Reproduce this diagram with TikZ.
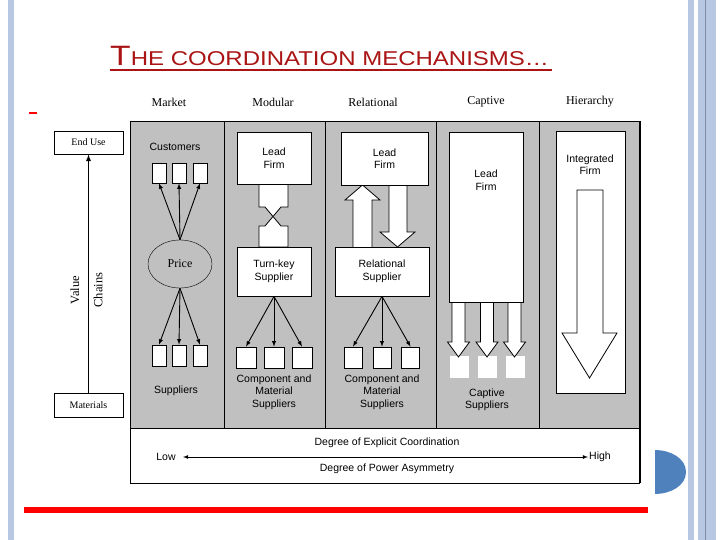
\documentclass[tikz,border=0pt]{standalone}
\usetikzlibrary{shapes.geometric}
\usepackage{fontspec}
\setmainfont{Liberation Sans}
\newfontfamily\serf{Liberation Serif}
\definecolor{band}{RGB}{184,200,226}
\definecolor{panel}{RGB}{192,192,192}
\definecolor{ttl}{RGB}{170,20,20}
\definecolor{dot}{RGB}{79,129,189}
\begin{document}
\begin{tikzpicture}[x=1pt,y=-1pt,
  wb/.style={draw=black,fill=white,line width=0.8pt},
  sm/.style={draw=black,fill=white,line width=0.7pt},
  lbl/.style={font=\fontsize{10.5}{12.5}\selectfont,align=center,inner sep=0pt},
  hd/.style={font=\serf\fontsize{12}{13}\selectfont,inner sep=0pt},
  arr/.style={-latex,line width=0.9pt},
  blk/.style={draw=black,fill=white,line width=0.8pt}]
\useasboundingbox (0,0) rectangle (720,540);
\fill[white] (0,0) rectangle (720,540);
% side bands
\fill[band] (8,0) rectangle (14,540);
\fill[band] (688,0) rectangle (694,540);
\fill[band] (698,0) rectangle (716,540);
\draw[band!70!black,line width=0.5pt] (705,0) -- (705,540);
% title
\node[anchor=base west,text=ttl,inner sep=0pt,xscale=1.2] (title) at (110,66)
  {\fontsize{28}{28}\selectfont T\fontsize{20}{20}\selectfont HE COORDINATION MECHANISMS\ldots};
\draw[ttl,line width=1.5pt] (110,70) -- (552,70);
\draw[red,line width=1.5pt] (29,113) -- (37,113);
% headers
\node[hd] (h1) at (169,102) {Market};
\node[hd] (h2) at (273,102) {Modular};
\node[hd] (h3) at (373,102) {Relational};
\node[hd] (h4) at (486,102) {Captive};
\node[hd] (h5) at (590,102) {Hierarchy};
% panel
\fill[panel] (130,121) rectangle (640,428);
\fill[white] (130,428) rectangle (640,483);
\draw[line width=0.7pt] (130,121) -- (640,121);
\draw[line width=0.7pt] (130,121) -- (130,483) -- (640,483);
\draw[line width=1.3pt] (640,121) -- (640,483);
\draw[line width=0.7pt] (130,428) -- (640,428);
\foreach \x in {224,325,436,539} \draw[line width=0.7pt] (\x,121) -- (\x,428);
% left
\node[wb,minimum width=69pt,minimum height=23pt,font=\serf\fontsize{10}{11}\selectfont] (end) at (88.5,142.5) {End Use};
\node[wb,minimum width=69pt,minimum height=24pt,font=\serf\fontsize{10}{11}\selectfont] (mat) at (88.5,405) {Materials};
\draw[-latex,line width=1.3pt] (mat.north) -- (end.south);
\node[hd,rotate=90,font=\serf\fontsize{12.5}{13}\selectfont] (val) at (75,290) {Value};
\node[hd,rotate=90,font=\serf\fontsize{12.5}{13}\selectfont] (chn) at (98,290) {Chains};
% market
\node[lbl] (cust) at (175,147) {Customers};
\foreach \i/\x in {1/159,2/179,3/200}{
  \node[sm,minimum width=14pt,minimum height=20pt,inner sep=0pt] (c\i) at (\x,173) {};
  \node[sm,minimum width=14pt,minimum height=21pt,inner sep=0pt] (s\i) at (\x,355.5) {};}
\node[draw,fill=panel,ellipse,minimum width=64pt,minimum height=48pt,inner sep=0pt,font=\serf\fontsize{12}{13}\selectfont] (price) at (180,264) {Price};
\foreach \i in {1,2,3}{\draw[arr] (price.north) -- (c\i.south); \draw[arr] (price.south) -- (s\i.north);}
\node[lbl] (sup) at (176,391) {Suppliers};
% block connectors (drawn before the boxes)
\draw[blk] (259,184) -- (259,207) -- (265,207) -- (281,226) -- (288,226) -- (288,247) -- (259,247) -- (259,226) -- (265,226) -- (281,207) -- (288,207) -- (288,184);
\draw[blk] (353,247) -- (353,200) -- (345,200) -- (362.5,185) -- (380,200) -- (372,200) -- (372,247);
\draw[blk] (389,185) -- (389,232) -- (380,232) -- (397.5,247) -- (415,232) -- (407,232) -- (407,185);
\foreach \i/\x in {1/459.5,2/487.5,3/515.5}{
  \node[fill=white,minimum width=19pt,minimum height=22pt,inner sep=0pt] (k\i) at (\x,367) {};}
\foreach \x in {458.5,487,514.5}{
  \draw[blk] (\x-6.5,302) -- (\x-6.5,342) -- (\x-11,342) -- (\x,357) -- (\x+11,342) -- (\x+6.5,342) -- (\x+6.5,302);}
% modular
\node[wb,minimum width=74pt,minimum height=52pt,lbl] (lf2) at (274,158) {Lead\\Firm};
\node[wb,minimum width=74pt,minimum height=49pt,lbl] (tk) at (274,271.5) {Turn-key\\Supplier};
\foreach \i/\x in {1/246,2/274,3/302}{
  \node[sm,minimum width=20pt,minimum height=21pt,inner sep=0pt] (m\i) at (\x,357.5) {};
  \draw[arr] (tk.south) -- (m\i.north);}
\node[lbl] (cm1) at (274,392) {Component and\\Material\\Suppliers};
% relational
\node[wb,minimum width=87pt,minimum height=53pt,lbl] (lf3) at (384.5,158.5) {Lead\\Firm};
\node[wb,minimum width=94pt,minimum height=49pt,lbl] (rs) at (382,271.5) {Relational\\Supplier};
\foreach \i/\x in {1/353,2/382,3/410.5}{
  \node[sm,minimum width=18pt,minimum height=21pt,inner sep=0pt] (r\i) at (\x,357.5) {};
  \draw[arr] (rs.south) -- (r\i.north);}
\node[lbl] (cm2) at (382,392) {Component and\\Material\\Suppliers};
% captive
\node[wb,minimum width=74pt,minimum height=170pt,lbl] (lf4) at (486,217) {};
\node[lbl] (lf4t) at (486,180) {Lead\\Firm};
\node[lbl] (cs) at (487,400) {Captive\\Suppliers};
% hierarchy
\node[wb,minimum width=69pt,minimum height=262pt] (ifm) at (590.5,262) {};
\node[lbl] (ift) at (590,164.5) {Integrated\\Firm};
\draw[blk] (577,190) -- (577,333) -- (562,333) -- (589.5,378) -- (617,333) -- (603,333) -- (603,190) -- cycle;
% bottom
\node[lbl] (dec) at (387,443) {Degree of Explicit Coordination};
\node[lbl] (dpa) at (387,469) {Degree of Power Asymmetry};
\node[lbl] (low) at (166,457) {Low};
\node[lbl] (high) at (600,457) {High};
\draw[latex-latex,line width=0.8pt] (183,457) coordinate (la) -- (588,457) coordinate (hb);
% red line, blue dot
\fill[red] (24,507) rectangle (648,513);
\fill[dot] (655,450) .. controls (670,450) and (686,458) .. (686,472) .. controls (686,486) and (670,494) .. (655,494) -- cycle;
\end{tikzpicture}
\end{document}
